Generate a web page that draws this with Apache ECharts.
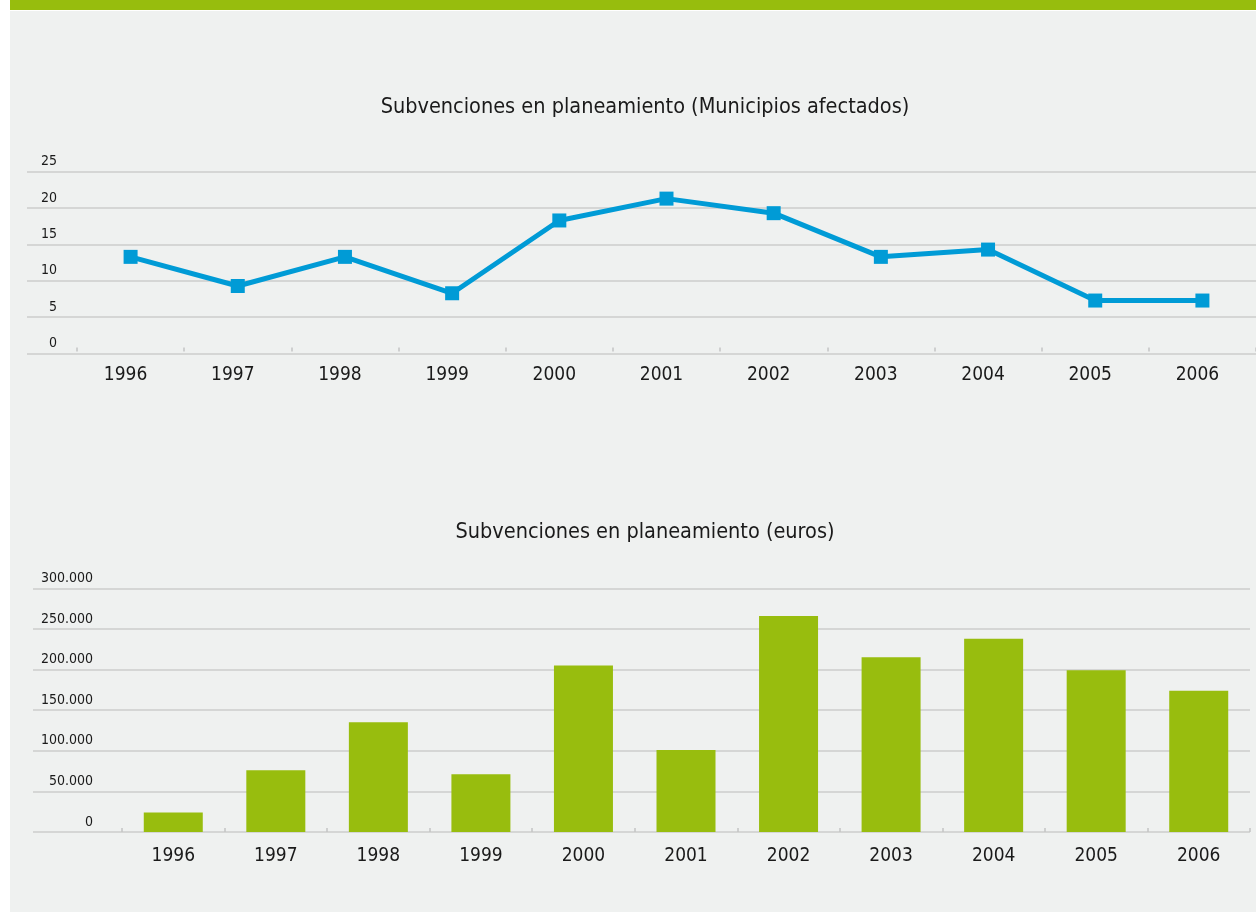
<!DOCTYPE html>
<html><head><meta charset="utf-8">
<script src="https://cdn.jsdelivr.net/npm/echarts@6/dist/echarts.min.js"></script>
<style>
html,body{margin:0;padding:0;background:#fff;}
#wrap{position:relative;width:1256px;height:915px;overflow:hidden;}
#panel{position:absolute;left:10px;top:11px;width:1246px;height:901px;background:#eff1f0;}
#topbar{position:absolute;left:10px;top:0;width:1246px;height:10px;background:#97bd0d;}
#chart{position:absolute;left:0;top:0;width:1256px;height:915px;}
</style></head>
<body>
<div id="wrap"><div id="topbar"></div><div id="panel"></div><div id="chart"></div></div>
<script>
var years = ['1996','1997','1998','1999','2000','2001','2002','2003','2004','2005','2006'];
var municipios = [13, 9, 13, 8, 18, 21, 19, 13, 14, 7, 7];
var euros = [24000, 76000, 135000, 71000, 205000, 101000, 266000, 215000, 238000, 199000, 174000];
var title1 = 'Subvenciones en planeamiento (Municipios afectados)';
var title2 = 'Subvenciones en planeamiento (euros)';

var FONT = '"Liberation Sans Narrow","DejaVu Sans Condensed","Arial Narrow",sans-serif';
var TXT = '#1a1a1a';
var GRIDC = '#cdcdcd';

function thous(v){ return String(v).replace(/\B(?=(\d{3})+(?!\d))/g, '.'); }

var chart = echarts.init(document.getElementById('chart'), null, {renderer:'canvas'});
var catAxis = function(gi, margin, pad){
  return {gridIndex:gi, type:'category', data:years, boundaryGap:true,
    axisLine:{show:false},
    axisTick:{show:true, inside:true, length:4, lineStyle:{color:'#c4c4c4', width:1.5}},
    axisLabel:{color:TXT, fontFamily:FONT, fontSize:19, margin:margin, padding:pad},
    splitLine:{show:false}};
};
var valAxis = function(gi, max, interval, margin, fmt){
  return {gridIndex:gi, type:'value', min:0, max:max, interval:interval,
    axisLine:{show:false}, axisTick:{show:false},
    splitLine:{show:true, lineStyle:{color:GRIDC, width:1.5}},
    axisLabel:{inside:true, align:'right', margin:margin, verticalAlign:'bottom', padding:[0,0,3,0],
      color:TXT, fontFamily:FONT, fontSize:14, formatter:fmt}};
};
chart.setOption({
  animation:false,
  backgroundColor:'transparent',
  title:[
    {text:title1, left:640, textAlign:'center', top:91, textStyle:{color:TXT, fontFamily:FONT, fontSize:21.5, fontWeight:'normal'}},
    {text:title2, left:640, textAlign:'center', top:516, textStyle:{color:TXT, fontFamily:FONT, fontSize:21.5, fontWeight:'normal'}}
  ],
  grid:[
    {left:27, right:0, top:171.5, height:182},
    {left:77, right:-1, top:169.5, height:182},
    {left:33, right:6, top:588.3, height:243.7},
    {left:122, right:6, top:588.3, height:243.7}
  ],
  xAxis:[
    {gridIndex:0, type:'value', show:false, min:0, max:1},
    catAxis(1, 14, [0,10,0,0]),
    {gridIndex:2, type:'value', show:false, min:0, max:1},
    catAxis(3, 15, [0,0,0,0])
  ],
  yAxis:[
    valAxis(0, 25, 5, 30, function(v){return String(v);}),
    {gridIndex:1, type:'value', min:0, max:25, show:false},
    valAxis(2, 300000, 50000, 60, function(v){return thous(v);}),
    {gridIndex:3, type:'value', min:0, max:300000, show:false}
  ],
  series:[
    {type:'line', xAxisIndex:1, yAxisIndex:1, data:municipios, symbol:'rect', symbolSize:14,
      lineStyle:{color:'#009bd6', width:5}, itemStyle:{color:'#009bd6'}},
    {type:'bar', xAxisIndex:3, yAxisIndex:3, data:euros, barWidth:59,
      itemStyle:{color:'#98bd0e'}}
  ]
});
</script>
</body></html>
